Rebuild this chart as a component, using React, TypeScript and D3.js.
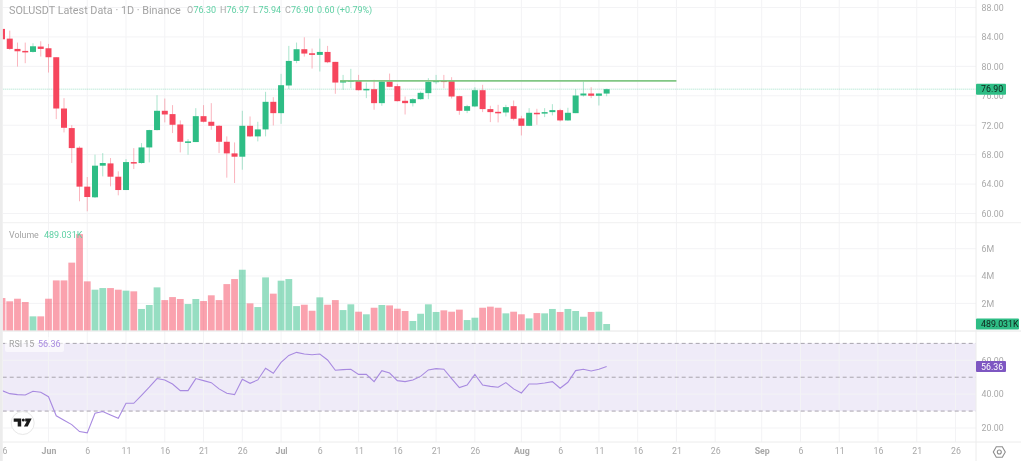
import React, { useEffect, useRef } from 'react';
import * as d3 from 'd3';

const width = 1024;
const height = 461;

// daily candles, 26 May to 12 Aug
const firstDay = new Date(Date.UTC(2024, 4, 26));
const opens = [
  85.09, 83.77, 82.37, 82.1, 81.96, 82.69, 82.46, 81.24, 74.27, 71.61, 68.94, 63.65, 62.2, 66.5, 66.81, 65.0,
  63.19, 66.99, 66.86, 68.98, 71.34, 73.96, 73.51, 72.1, 69.71, 69.71, 73.23, 72.47, 71.92, 69.75, 68.17, 67.72,
  71.92, 70.48, 71.43, 75.18, 73.64, 77.4, 80.74, 82.33, 81.78, 81.56, 81.96, 80.61, 77.8, 78.03, 78.12, 76.81,
  76.9, 75.0, 77.94, 77.31, 75.32, 75.0, 75.54, 76.36, 77.85, 78.07, 78.03, 75.95, 73.96, 74.55, 76.76, 74.19,
  73.82, 73.73, 74.59, 72.92, 71.92, 73.69, 73.6, 73.78, 74.05, 72.65, 73.64, 76.04, 76.31, 76.0, 76.3,
];
const highs = [
  85.09, 84.86, 83.23, 83.23, 83.14, 83.41, 83.05, 81.24, 75.68, 72.01, 69.12, 64.96, 67.99, 68.21, 67.54, 65.73,
  67.4, 68.89, 69.57, 71.38, 76.08, 75.63, 74.73, 72.65, 70.11, 74.32, 74.73, 75.0, 72.01, 70.48, 69.66, 73.96,
  73.19, 72.47, 76.54, 75.81, 78.98, 82.78, 83.23, 83.95, 82.42, 83.77, 82.78, 80.61, 78.84, 79.66, 78.84, 77.8,
  78.17, 78.03, 79.02, 77.62, 75.9, 75.68, 76.58, 78.39, 78.84, 78.84, 78.53, 76.01, 74.77, 77.17, 77.49, 74.64,
  74.77, 74.77, 75.36, 73.28, 74.32, 74.23, 74.32, 74.86, 74.23, 74.37, 76.9, 77.94, 77.17, 76.31, 76.97,
];
const lows = [
  83.68, 82.24, 79.97, 80.43, 81.87, 81.33, 79.16, 72.83, 71.02, 66.86, 61.66, 60.3, 62.11, 65.05, 63.69, 62.47,
  63.19, 66.04, 66.77, 66.95, 71.29, 72.38, 70.93, 68.3, 67.99, 69.71, 72.38, 71.38, 68.21, 64.87, 64.14, 65.95,
  70.39, 69.8, 70.48, 71.97, 72.19, 76.9, 80.43, 81.33, 79.7, 79.3, 80.43, 76.27, 76.81, 77.03, 76.72, 75.68,
  74.1, 74.64, 77.17, 75.23, 73.46, 74.55, 75.45, 75.54, 77.58, 77.03, 75.63, 73.42, 73.64, 74.46, 73.78, 72.42,
  72.38, 73.19, 72.65, 70.61, 71.88, 72.06, 73.1, 73.33, 72.51, 72.6, 73.64, 75.9, 75.68, 74.68, 75.94,
];
const closes = [
  83.68, 82.37, 82.05, 81.96, 82.73, 82.37, 81.24, 74.27, 71.65, 68.89, 63.65, 62.24, 66.5, 66.86, 65.0, 63.19,
  66.99, 66.81, 68.98, 71.34, 73.96, 73.46, 72.06, 69.75, 69.8, 73.23, 72.47, 71.92, 69.75, 68.17, 67.72, 71.92,
  70.48, 71.43, 75.18, 73.64, 77.44, 80.74, 82.33, 81.74, 81.56, 81.96, 80.56, 77.8, 78.03, 78.12, 76.76, 76.94,
  75.0, 77.94, 77.22, 75.27, 75.0, 75.54, 76.4, 77.89, 78.07, 77.94, 75.9, 73.96, 74.59, 76.76, 74.19, 73.78,
  73.64, 74.46, 72.87, 71.92, 73.69, 73.6, 73.78, 74.05, 72.65, 73.69, 76.04, 76.31, 76.0, 76.31, 76.9,
];
const volumes = [
  2.39, 2.15, 2.34, 2.1, 1.05, 1.05, 2.34, 3.68, 3.68, 4.98, 7.07, 3.61, 3.0, 3.12, 3.12, 3.0,
  2.93, 2.88, 1.59, 1.88, 3.17, 2.24, 2.46, 2.32, 1.95, 2.32, 2.17, 2.59, 2.24, 3.41, 3.78, 4.46,
  2.0, 1.73, 3.9, 2.71, 3.66, 3.78, 1.8, 1.9, 1.46, 2.44, 1.9, 2.24, 1.51, 1.93, 1.39, 1.2,
  1.68, 1.88, 1.85, 1.61, 1.44, 0.71, 1.24, 1.93, 1.37, 1.49, 1.39, 1.54, 0.78, 0.95, 1.68, 1.76,
  1.68, 1.27, 1.39, 1.2, 0.9, 1.29, 1.27, 1.59, 1.37, 1.59, 1.44, 1.02, 1.37, 1.39, 0.489,
];
const rsi = [
  42.1, 40.3, 39.7, 39.5, 41.7, 41.1, 38.5, 27.2, 24.6, 22.0, 17.9, 17.1, 28.7, 29.7, 27.7, 25.8,
  34.6, 34.6, 39.3, 44.1, 49.2, 48.4, 46.0, 42.1, 42.1, 49.2, 48.0, 46.8, 43.1, 40.5, 39.7, 48.8,
  46.4, 48.4, 55.3, 52.3, 58.8, 62.9, 64.7, 63.7, 63.3, 63.7, 60.2, 54.1, 54.5, 54.7, 51.7, 51.7,
  47.4, 53.9, 52.5, 48.0, 47.4, 48.4, 50.5, 54.3, 55.1, 54.7, 49.2, 43.9, 45.4, 51.7, 45.4, 44.6,
  44.1, 46.8, 43.1, 40.7, 46.0, 46.0, 46.6, 47.4, 43.5, 47.0, 53.9, 54.7, 53.7, 54.7, 56.36,
];

const priceTicks = [60, 64, 68, 72, 76, 80, 84, 88];
const volumeTicks = [2, 4, 6];
const rsiTicks = [20, 40, 60];
const rsiBands = [30, 50, 70];
const lastPrice = 76.9;
const lastVolume = 489.031;
const lastRsi = 56.36;
const resistance = { price: 78.03, from: new Date(Date.UTC(2024, 6, 9)), to: new Date(Date.UTC(2024, 7, 21)) };

const timeTicks = [
  [2024, 4, 26], [2024, 5, 1], [2024, 5, 6], [2024, 5, 11], [2024, 5, 16], [2024, 5, 21], [2024, 5, 26],
  [2024, 6, 1], [2024, 6, 6], [2024, 6, 11], [2024, 6, 16], [2024, 6, 21], [2024, 6, 26],
  [2024, 7, 1], [2024, 7, 6], [2024, 7, 11], [2024, 7, 16], [2024, 7, 21], [2024, 7, 26],
  [2024, 8, 1], [2024, 8, 6], [2024, 8, 11], [2024, 8, 16], [2024, 8, 21], [2024, 8, 26],
].map(([y, m, d]) => new Date(Date.UTC(y, m, d)));

const legendParts = [
  { text: 'O', x: 187, color: '#aaaaaa' },
  { text: '76.30', x: 193.5, color: '#5fd0a4' },
  { text: 'H', x: 220, color: '#aaaaaa' },
  { text: '76.97', x: 226.5, color: '#5fd0a4' },
  { text: 'L', x: 253, color: '#aaaaaa' },
  { text: '75.94', x: 258.5, color: '#5fd0a4' },
  { text: 'C', x: 285, color: '#aaaaaa' },
  { text: '76.90', x: 291, color: '#5fd0a4' },
  { text: '0.60 (+0.79%)', x: 317, color: '#5fd0a4' },
];

const green = '#2ebd85';
const red = '#f6465d';
const gridColor = '#f3f3f5';
const labelColor = '#a9a9a9';
const font = 'Roboto, "Noto Sans", sans-serif';
const tickSize = 8.8;

const plotLeft = 2.7;
const plotRight = 976;

const App: React.FC = () => {
  const svgRef = useRef<SVGSVGElement>(null);

  useEffect(() => {
    if (!svgRef.current) return;

    const svg = d3.select(svgRef.current);
    svg.selectAll('*').remove();

    const days = closes.map((_, i) => d3.utcDay.offset(firstDay, i));

    const xScale = d3.scaleUtc()
      .domain([new Date(Date.UTC(2024, 5, 1)), new Date(Date.UTC(2024, 8, 26))])
      .range([48.5, 955.5]);
    const priceY = d3.scaleLinear().domain([60, 88]).range([213.5, 7.5]);
    const volumeY = d3.scaleLinear().domain([0, 6]).range([330.7, 248.7]);
    const rsiY = d3.scaleLinear().domain([20, 60]).range([428, 360.3]);

    const isUp = (i: number) => closes[i] >= opens[i];

    // background and clip for the plot area
    svg.append('rect').attr('width', width).attr('height', height).attr('fill', '#ffffff');
    svg.append('defs').append('clipPath').attr('id', 'plot')
      .append('rect').attr('x', plotLeft).attr('y', 0).attr('width', plotRight - plotLeft).attr('height', 442);

    const plot = svg.append('g').attr('clip-path', 'url(#plot)');

    // RSI band goes under the grid
    plot.append('rect')
      .attr('x', plotLeft)
      .attr('y', rsiY(70))
      .attr('width', plotRight - plotLeft)
      .attr('height', rsiY(30) - rsiY(70))
      .attr('fill', '#7e57c2')
      .attr('fill-opacity', 0.12);

    // Grid
    plot.append('g').selectAll('line').data(timeTicks).enter().append('line')
      .attr('x1', d => xScale(d)).attr('x2', d => xScale(d))
      .attr('y1', 0).attr('y2', 442)
      .attr('stroke', gridColor);
    const hGrid = [
      ...priceTicks.map(v => priceY(v)),
      ...volumeTicks.map(v => volumeY(v)),
      ...rsiTicks.map(v => rsiY(v)),
    ];
    plot.append('g').selectAll('line').data(hGrid).enter().append('line')
      .attr('x1', plotLeft).attr('x2', plotRight)
      .attr('y1', d => d).attr('y2', d => d)
      .attr('stroke', gridColor);

    // Panel separators
    [222.7, 331].forEach((y, i) => {
      svg.append('line').attr('x1', plotLeft).attr('x2', 1021).attr('y1', y).attr('y2', y)
        .attr('stroke', i === 0 ? '#f0f0f0' : '#e6e6e6');
    });
    svg.append('line').attr('x1', plotLeft).attr('x2', 1021).attr('y1', 442).attr('y2', 442).attr('stroke', '#ececec');
    svg.append('line').attr('x1', plotRight).attr('x2', plotRight).attr('y1', 0).attr('y2', 461).attr('stroke', '#ececec');

    // Volume
    plot.append('g').selectAll('rect').data(volumes).enter().append('rect')
      .attr('x', (_, i) => xScale(days[i]) - 3.4)
      .attr('width', 6.8)
      .attr('y', d => volumeY(d))
      .attr('height', d => volumeY(0) - volumeY(d))
      .attr('fill', (_, i) => (isUp(i) ? green : red))
      .attr('fill-opacity', 0.5);

    // RSI dashed levels and line
    plot.append('g').selectAll('line').data(rsiBands).enter().append('line')
      .attr('x1', plotLeft).attr('x2', plotRight)
      .attr('y1', d => rsiY(d)).attr('y2', d => rsiY(d))
      .attr('stroke', '#a8a4ae')
      .attr('stroke-dasharray', '4,3');
    const rsiLine = d3.line<number>()
      .x((_, i) => xScale(days[i]))
      .y(d => rsiY(d));
    plot.append('path')
      .attr('d', rsiLine(rsi))
      .attr('fill', 'none')
      .attr('stroke', '#a88ae0')
      .attr('stroke-width', 1.1);

    // Last price line
    plot.append('line')
      .attr('x1', plotLeft).attr('x2', plotRight)
      .attr('y1', priceY(lastPrice)).attr('y2', priceY(lastPrice))
      .attr('stroke', green).attr('stroke-opacity', 0.45)
      .attr('stroke-dasharray', '1,1');

    // Candles
    const candles = plot.append('g');
    candles.selectAll('line').data(closes).enter().append('line')
      .attr('x1', (_, i) => xScale(days[i])).attr('x2', (_, i) => xScale(days[i]))
      .attr('y1', (_, i) => priceY(highs[i])).attr('y2', (_, i) => priceY(lows[i]))
      .attr('stroke', (_, i) => (isUp(i) ? green : red))
      .attr('stroke-opacity', 0.4);
    candles.selectAll('rect').data(closes).enter().append('rect')
      .attr('x', (_, i) => xScale(days[i]) - 3)
      .attr('width', 6)
      .attr('y', (_, i) => priceY(Math.max(opens[i], closes[i])))
      .attr('height', (_, i) => Math.max(1.5, Math.abs(priceY(opens[i]) - priceY(closes[i]))))
      .attr('fill', (_, i) => (isUp(i) ? green : red));

    // Drawn horizontal level
    plot.append('line')
      .attr('x1', xScale(resistance.from) - 3).attr('x2', xScale(resistance.to))
      .attr('y1', priceY(resistance.price)).attr('y2', priceY(resistance.price))
      .attr('stroke', '#81c784')
      .attr('stroke-width', 1.6);

    // Axes
    const styleAxis = (g: d3.Selection<SVGGElement, unknown, null, undefined>, size: number) => {
      g.select('.domain').remove();
      g.selectAll('.tick line').remove();
      g.selectAll('text')
        .attr('fill', labelColor)
        .style('font-family', font)
        .style('font-size', `${size}px`);
    };

    const priceAxis = d3.axisRight(priceY).tickValues(priceTicks).tickSize(0).tickPadding(5.5).tickFormat(d => d3.format('.2f')(d as number));
    svg.append('g').attr('transform', `translate(${plotRight},0)`).call(priceAxis).call(g => styleAxis(g as any, tickSize));

    const volumeAxis = d3.axisRight(volumeY).tickValues(volumeTicks).tickSize(0).tickPadding(5.5).tickFormat(d => `${d}M`);
    svg.append('g').attr('transform', `translate(${plotRight},0)`).call(volumeAxis).call(g => styleAxis(g as any, tickSize));

    const rsiAxis = d3.axisRight(rsiY).tickValues(rsiTicks).tickSize(0).tickPadding(5.5).tickFormat(d => d3.format('.2f')(d as number));
    svg.append('g').attr('transform', `translate(${plotRight},0)`).call(rsiAxis).call(g => styleAxis(g as any, tickSize));

    const monthFormat = d3.utcFormat('%b');
    const dayFormat = d3.utcFormat('%-d');
    const timeAxis = d3.axisBottom(xScale).tickValues(timeTicks).tickSize(0).tickPadding(6)
      .tickFormat(d => ((d as Date).getUTCDate() === 1 ? monthFormat(d as Date) : dayFormat(d as Date)));
    svg.append('g').attr('transform', 'translate(0,442)').call(timeAxis).call(g => {
      styleAxis(g as any, tickSize);
      g.selectAll<SVGTextElement, Date>('text').style('font-weight', d => (d.getUTCDate() === 1 ? 700 : 400));
    });

    // grey strip down the left edge hides the clipped first label
    svg.append('rect').attr('width', plotLeft).attr('height', height).attr('fill', '#ececec');

    // Last value labels on the scale
    const tags = [
      { y: priceY(lastPrice), w: 30, fill: green, color: '#10221b', text: d3.format('.2f')(lastPrice) },
      { y: volumeY(lastVolume / 1000), w: 43, fill: green, color: '#10221b', text: `${d3.format('.3f')(lastVolume)}K` },
      { y: rsiY(lastRsi), w: 30, fill: '#7e57c2', color: '#ffffff', text: d3.format('.2f')(lastRsi) },
    ];
    const tagGroup = svg.append('g').selectAll('g').data(tags).enter().append('g');
    tagGroup.append('rect')
      .attr('x', plotRight).attr('y', d => d.y - 5.5)
      .attr('width', d => d.w).attr('height', 11)
      .attr('rx', 1)
      .attr('fill', d => d.fill);
    tagGroup.append('text')
      .attr('x', plotRight + 5).attr('y', d => d.y + 3.2)
      .attr('fill', d => d.color)
      .style('font-family', font).style('font-size', `${tickSize}px`)
      .text(d => d.text);

    // Legends
    const legend = svg.append('g').style('font-family', font);
    legend.append('text').attr('x', 9).attr('y', 13.5).attr('fill', '#a3a3a3').style('font-size', '10.8px')
      .text('SOLUSDT Latest Data · 1D · Binance');
    legend.selectAll('text.ohlc').data(legendParts).enter().append('text')
      .attr('class', 'ohlc')
      .attr('x', d => d.x).attr('y', 12.8)
      .attr('fill', d => d.color)
      .style('font-size', '9px')
      .text(d => d.text);

    legend.append('text').attr('x', 9).attr('y', 237.5).attr('fill', '#a3a3a3').style('font-size', '8.8px').text('Volume');
    legend.append('text').attr('x', 44).attr('y', 237.5).attr('fill', '#5fd0a4').style('font-size', '9px').text('489.031K');

    legend.append('rect').attr('x', 5).attr('y', 337).attr('width', 59).attr('height', 15).attr('rx', 2)
      .attr('fill', '#ffffff').attr('fill-opacity', 0.6);
    legend.append('text').attr('x', 9).attr('y', 346.5).attr('fill', '#a3a3a3').style('font-size', '8.8px').text('RSI 15');
    legend.append('text').attr('x', 38).attr('y', 346.5).attr('fill', '#a88ae0').style('font-size', '9px').text('56.36');

    // TradingView badge
    const badge = svg.append('g').attr('transform', 'translate(22.7,423)');
    badge.append('circle').attr('r', 11.5).attr('fill', '#ffffff').attr('stroke', '#e8e8e8');
    badge.append('path').attr('d', 'M-9,-4.5 H-1.5 V3.5 H-5 V-1.2 H-9 Z M2.5,-4.5 H9 L5,3.5 H1.2 L4,-1.5 H2.5 Z').attr('fill', '#1a1a1a');
    badge.append('circle').attr('cx', 0.6).attr('cy', -3).attr('r', 1.5).attr('fill', '#1a1a1a');

    // Settings icon in the corner
    const gear = svg.append('g').attr('transform', 'translate(999.3,452)');
    const hex = d3.lineRadial<number>().angle(d => d).radius(6).curve(d3.curveLinearClosed);
    gear.append('path')
      .attr('d', hex(d3.range(6).map(i => (i * Math.PI) / 3 + Math.PI / 2)))
      .attr('fill', 'none').attr('stroke', '#8d8d8d').attr('stroke-width', 1.1);
    gear.append('circle').attr('r', 2).attr('fill', 'none').attr('stroke', '#8d8d8d').attr('stroke-width', 1.1);
  }, []);

  return (
    <svg
      ref={svgRef}
      width={width}
      height={height}
      style={{ position: 'absolute', left: 0, top: 0, display: 'block', filter: 'blur(0.35px)' }}
    />
  );
};

export default App;
